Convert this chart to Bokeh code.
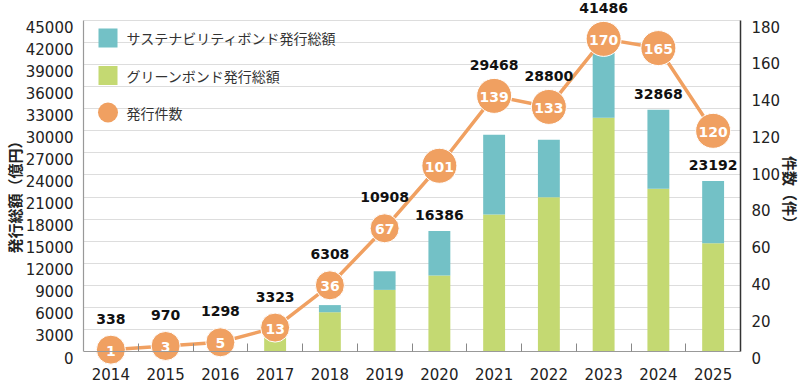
from bokeh.plotting import figure
from bokeh.models import (ColumnDataSource, Range1d, LinearAxis, SingleIntervalTicker,
                          FixedTicker, Title)
from bokeh.core.properties import value
from bokeh.embed import file_html
from bokeh.resources import INLINE

# ---- data ----
years = ["2014", "2015", "2016", "2017", "2018", "2019", "2020", "2021", "2022", "2023", "2024", "2025"]
totals = [338, 970, 1298, 3323, 6308, 10908, 16386, 29468, 28800, 41486, 32868, 23192]
green = [338, 970, 1298, 3100, 5340, 8380, 10330, 18620, 20980, 31770, 22120, 14720]
counts = [1, 3, 5, 13, 36, 67, 101, 139, 133, 170, 165, 120]
legend_labels = ["サステナビリティボンド発行総額", "グリーンボンド発行総額", "発行件数"]
left_title = "発行総額（億円）"
right_title = "件数（件）"

YMAX = 45000
CMAX = 180

# ---- layout / style constants ----
TEAL = "#73C1C6"
GREEN = "#C4D972"
ORANGE = "#F0A061"
FIG_W, FIG_H = 800, 386
BORDER_L, BORDER_R = 83, 60
FRAME_W = FIG_W - BORDER_L - BORDER_R
TOP_PX, ZERO_PX = 20, 351                       # pixel rows of YMAX and of zero
LABEL_DROP = 6                                  # tick labels sit a little below their grid line
UNIT = YMAX / (ZERO_PX - TOP_PX)               # data units per pixel
Y0, Y1 = -(FIG_H - ZERO_PX) * UNIT, YMAX + TOP_PX * UNIT
ratio = YMAX / CMAX

sus = [t - g for t, g in zip(totals, green)]
xs = [i + 0.5 for i in range(len(years))]
sizes = [29 if c < 100 else 35 for c in counts]

# total label placement: above the circle when it sits near the bar top, else above the bar
lab_y, lab_off = [], []
for t, c in zip(totals, counts):
    cv = c * ratio
    if cv - t > 6000:
        lab_y.append(t); lab_off.append(-16)
    else:
        lab_y.append(cv); lab_off.append(-31)

src = ColumnDataSource(dict(x=xs, green=green, sus=sus, total=[str(t) for t in totals],
                            count=counts, count_lbl=[str(c) for c in counts], size=sizes,
                            lab_y=lab_y, lab_off=lab_off))

p = figure(width=FIG_W, height=FIG_H, x_range=Range1d(0, len(years)), y_range=Range1d(Y0, Y1),
           output_backend="svg", toolbar_location=None, x_axis_location=None, y_axis_location=None,
           min_border_left=BORDER_L, min_border_right=BORDER_R, min_border_top=0,
           min_border_bottom=0)
p.outline_line_color = None
p.background_fill_color = "white"
p.border_fill_color = "white"

shift = LABEL_DROP * UNIT
p.extra_y_ranges = {"count": Range1d(Y0 / ratio, Y1 / ratio),
                    "ylab": Range1d(Y0 + shift, Y1 + shift),
                    "clab": Range1d((Y0 + shift) / ratio, (Y1 + shift) / ratio),
                    "px": Range1d(FIG_H, 0)}
p.extra_x_ranges = {"px": Range1d(0, FRAME_W)}

# grid
p.xgrid.visible = False
p.ygrid.ticker = SingleIntervalTicker(interval=3000)
p.ygrid.bounds = (0, YMAX)
p.ygrid.grid_line_color = "#DDDDDD"
p.ygrid.grid_line_width = 1.2

# bars
p.vbar_stack(["green", "sus"], x="x", width=0.4, color=[GREEN, TEAL], source=src, line_color=None)

# line + circles
p.line("x", "count", source=src, y_range_name="count", line_color=ORANGE, line_width=3.5)
p.scatter("x", "count", source=src, y_range_name="count", size="size", fill_color=ORANGE,
          line_color="white", line_width=1)
p.text("x", "count", text="count_lbl", source=src, y_range_name="count",
       text_color="white", text_font=value("DejaVu Sans"), text_font_style="bold",
       text_font_size="14px", text_align="center", text_baseline="middle", y_offset=1)

# total labels
p.text("x", "lab_y", text="total", source=src, y_offset="lab_off",
       text_color="#111111", text_font=value("DejaVu Sans"), text_font_style="bold",
       text_font_size="14px", text_align="center", text_baseline="middle")

tick_font = dict(major_label_text_font="DejaVu Sans", major_label_text_font_size="15px",
                 major_label_text_color="#222222")
no_ticks = dict(major_tick_line_color=None, minor_tick_line_color=None,
                major_tick_out=0, major_tick_in=0, minor_tick_out=0, minor_tick_in=0)

# x axis drawn on the zero line, ticks between categories
xa = LinearAxis(fixed_location=0,
                ticker=FixedTicker(ticks=xs, minor_ticks=list(range(1, len(years)))),
                major_label_overrides={x: y for x, y in zip(xs, years)},
                major_tick_line_color=None, major_tick_out=0, major_tick_in=0,
                minor_tick_in=8, minor_tick_out=0, minor_tick_line_color="#888888",
                axis_line_color="#999999", axis_line_width=1.2, major_label_standoff=16, **tick_font)
p.add_layout(xa, "below")

# left: axis line, then labels
p.add_layout(LinearAxis(ticker=FixedTicker(ticks=[]), bounds=(0, YMAX), axis_line_color="#999999",
                        axis_line_width=1.2, major_label_standoff=0, **no_ticks), "left")
p.add_layout(LinearAxis(y_range_name="ylab", ticker=SingleIntervalTicker(interval=3000, num_minor_ticks=0),
                        bounds=(0, YMAX), axis_line_color=None, major_label_standoff=10,
                        **no_ticks, **tick_font), "left")

# right: axis line, then labels
p.add_layout(LinearAxis(y_range_name="count", ticker=FixedTicker(ticks=[]), bounds=(0, CMAX),
                        axis_line_color="#333333", axis_line_width=1.5, major_label_standoff=0,
                        **no_ticks), "right")
p.add_layout(LinearAxis(y_range_name="clab", ticker=SingleIntervalTicker(interval=20, num_minor_ticks=0),
                        bounds=(0, CMAX), axis_line_color=None, major_label_standoff=11,
                        **no_ticks, **tick_font), "right")

# axis titles
title_style = dict(text_font="Noto Sans CJK JP", text_font_style="bold", text_font_size="15px",
                   text_color="#222222", align="center")
p.add_layout(Title(text=left_title, standoff=-4, **title_style), "left")
p.add_layout(Title(text=right_title, standoff=-8, **title_style), "right")

# legend (drawn in frame pixel coordinates)
leg_x = [24.5, 24.5, 24.5]
leg_y = [37.5, 75, 112]
p.scatter(leg_x[:2], leg_y[:2], marker="square", size=19, fill_color=[TEAL, GREEN],
          line_color=None, x_range_name="px", y_range_name="px")
p.scatter(leg_x[2:], leg_y[2:], marker="circle", size=20, fill_color=ORANGE,
          line_color=None, x_range_name="px", y_range_name="px")
p.text([x + 18.5 for x in leg_x], leg_y, text=legend_labels, x_range_name="px", y_range_name="px",
       text_font=value("Noto Sans CJK JP"), text_font_size="14px", text_color="#333333",
       text_baseline="middle", text_align="left")

open("out.html", "w").write(file_html(p, INLINE))
